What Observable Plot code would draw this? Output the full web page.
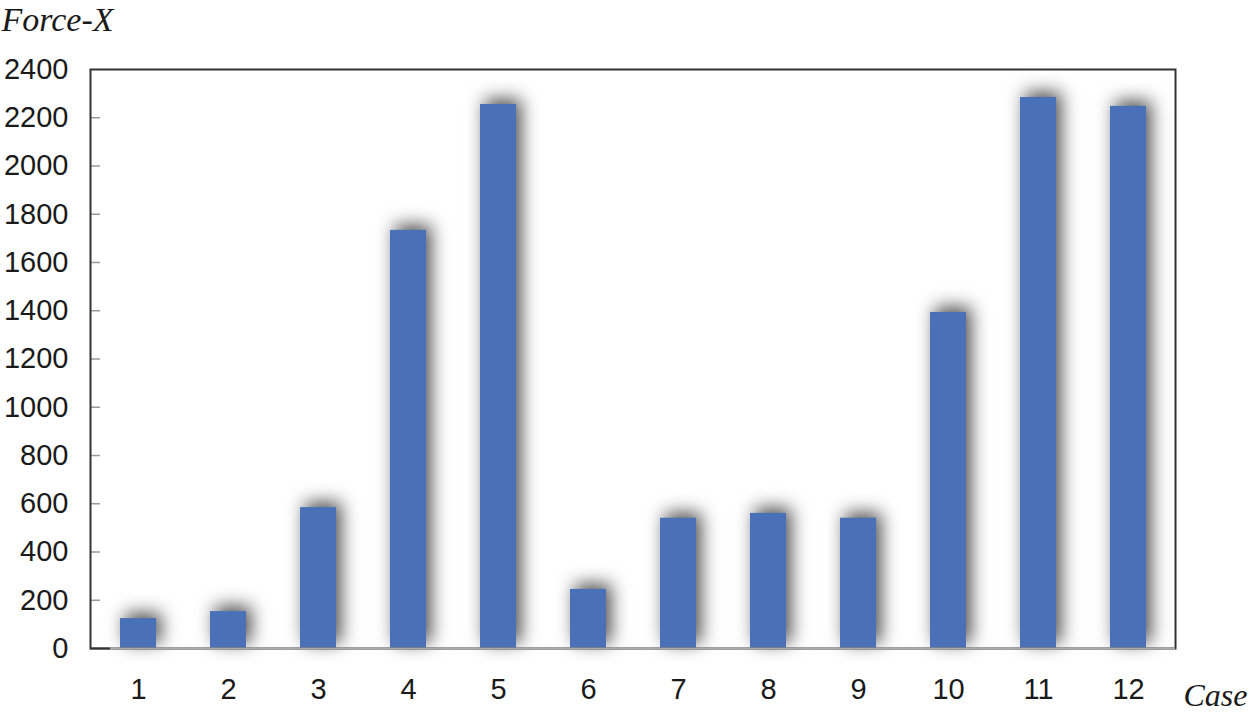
<!DOCTYPE html>
<html>
<head>
<meta charset="utf-8">
<script src="https://cdn.jsdelivr.net/npm/d3@7"></script>
<script src="https://cdn.jsdelivr.net/npm/@observablehq/plot@0.6"></script>
<style>
  html, body { margin: 0; padding: 0; background: #fff; }
  #chart svg { display: block; }
</style>
</head>
<body>
<div id="chart"></div>
<script>
const cases = ["1","2","3","4","5","6","7","8","9","10","11","12"];
const forceX = [124, 153, 584, 1733, 2255, 245, 540, 560, 540, 1393, 2284, 2247];
const yTicks = [0,200,400,600,800,1000,1200,1400,1600,1800,2000,2200,2400];
const yLabel = "Force-X";
const xLabel = "Case";

const data = cases.map((c, i) => ({case: c, value: forceX[i]}));

const W = 1250, ML = 90, MR = 75;
const plotW = W - ML - MR;

const chart = Plot.plot({
  width: W,
  height: 712,
  marginLeft: ML,
  marginRight: MR,
  marginTop: 69,
  marginBottom: 64,
  style: {fontFamily: "'Liberation Sans', Arial, Helvetica, sans-serif", fontSize: "29px", color: "#1a1a1a", background: "#fff", overflow: "visible"},
  x: {domain: cases, paddingInner: 0.6, paddingOuter: 0.3, label: null},
  y: {domain: [0, 2400], label: null},
  marks: [
    Plot.barY(data, {x: "case", y: "value", fill: "#4a71b8"}),
    Plot.ruleY(yTicks.slice(1, -1), {y: d => d, stroke: "#9a9a9a", strokeWidth: 1.5, insetRight: plotW - 10}),
    Plot.ruleY([0], {stroke: "#444", strokeWidth: 2, insetRight: plotW - 20}),
    Plot.frame({stroke: "#333", strokeWidth: 2}),
    Plot.ruleY([0], {stroke: "#aaa", strokeWidth: 2, insetLeft: 20}),
    Plot.axisY(yTicks, {anchor: "left", tickSize: 0, tickPadding: 22, fontSize: 29, fill: "#1a1a1a", tickFormat: d => String(d), label: null}),
    Plot.axisX({tickSize: 0, tickPadding: 30, fontSize: 29, fill: "#1a1a1a", label: null}),
    Plot.text([yLabel], {text: d => d, frameAnchor: "top-left", textAnchor: "start", lineAnchor: "bottom", dx: -89, dy: -39, fontFamily: "'Liberation Serif', 'Times New Roman', serif", fontStyle: "italic", fontSize: 34, fill: "#1a1a1a"}),
    Plot.text([xLabel], {text: d => d, frameAnchor: "bottom-right", textAnchor: "start", lineAnchor: "bottom", dx: 8, dy: 57, fontFamily: "'Liberation Serif', 'Times New Roman', serif", fontStyle: "italic", fontSize: 32, fill: "#1a1a1a"})
  ]
});

const bars = chart.querySelector('g[aria-label="bar"]');
if (bars) bars.style.filter = "drop-shadow(5px -5px 9px rgba(0,0,0,0.7))";

document.getElementById("chart").appendChild(chart);
</script>
</body>
</html>
